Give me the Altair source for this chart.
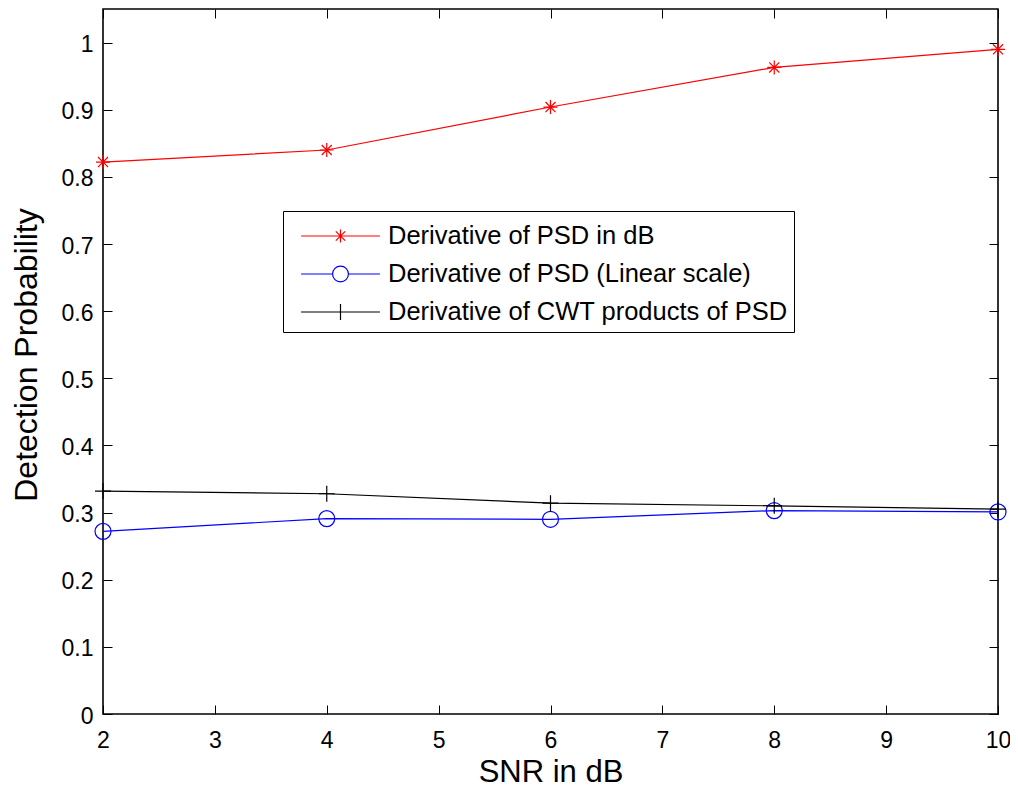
import altair as alt
import pandas as pd

# ---- data ----
snr = [2, 4, 6, 8, 10]
psd_db = [0.822, 0.840, 0.904, 0.963, 0.990]
psd_lin = [0.272, 0.291, 0.290, 0.303, 0.301]
cwt_psd = [0.332, 0.328, 0.314, 0.310, 0.305]

names = [
    "Derivative of PSD in dB",
    "Derivative of PSD (Linear scale)",
    "Derivative of CWT products of PSD",
]
colors = ["#ff0000", "#0000ff", "#000000"]
x_ticks = [2, 3, 4, 5, 6, 7, 8, 9, 10]
y_ticks = [0, 0.1, 0.2, 0.3, 0.4, 0.5, 0.6, 0.7, 0.8, 0.9, 1.0]

rows = []
for name, vals in zip(names, [psd_db, psd_lin, cwt_psd]):
    for s, v in zip(snr, vals):
        rows.append({"snr": s, "p": v, "series": name})
df = pd.DataFrame(rows)

FONT = "Liberation Sans"

# marker glyphs (unit space)
STAR = "M-1,0L1,0M0,-1L0,1M-0.72,-0.72L0.72,0.72M-0.72,0.72L0.72,-0.72"
PLUS = "M-1,0L1,0M0,-1L0,1"
markers = [(STAR, 196), ("circle", 256), (PLUS, 256)]

# legend glyphs: line + marker
LEG_STAR = ("M-2.19,0L2.19,0M0,-0.36L0,0.36M-0.26,-0.26L0.26,0.26"
            "M-0.26,0.26L0.26,-0.26")
LEG_CIRC = ("M-2.19,0L-0.44,0M0.44,0L2.19,0"
            "M0.44,0A0.44,0.44,0,1,1,-0.44,0A0.44,0.44,0,1,1,0.44,0")
LEG_PLUS = "M-2.19,0L2.19,0M0,-0.45L0,0.45"
leg_shapes = [LEG_STAR, LEG_CIRC, LEG_PLUS]

xscale = alt.Scale(domain=[2, 10], nice=False, zero=False)
yscale = alt.Scale(domain=[0, 1.05], nice=False, zero=False)

bottom_axis = alt.Axis(
    orient="bottom", values=x_ticks, offset=-9, tickSize=9, domain=False,
    grid=False, labelPadding=15, labelFontSize=23, labelFont=FONT,
    labelFlush=False, labelColor="black", tickColor="black", tickWidth=1,
    title="SNR in dB", titleFont=FONT, titleFontSize=31,
    titleFontWeight="normal", titleColor="black",
    titleBaseline="alphabetic", titleY=76, titleX=447.5,
)
left_axis = alt.Axis(
    orient="left", values=y_ticks, format=".1~f", offset=-9, tickSize=9,
    domain=False, grid=False, labelPadding=10, labelFontSize=23,
    labelFont=FONT, labelColor="black", labelOffset=2, labelFlush=False,
    tickColor="black", tickWidth=1,
    title="Detection Probability", titleFont=FONT, titleFontSize=32,
    titleFontWeight="normal", titleColor="black", titleAngle=-90,
    titleBaseline="alphabetic", titleX=-76, titleY=345.5,
)
top_axis = alt.Axis(
    orient="top", values=x_ticks, offset=-9, tickSize=9, domain=False,
    grid=False, labels=False, title=None, tickColor="black", tickWidth=1,
)
right_axis = alt.Axis(
    orient="right", values=y_ticks, offset=-9, tickSize=9, domain=False,
    grid=False, labels=False, title=None, tickColor="black", tickWidth=1,
)

base = alt.Chart(df)
layers = []
for i, (name, col, (shp, sz)) in enumerate(zip(names, colors, markers)):
    sub = base.transform_filter(alt.datum.series == name)
    line = sub.mark_line(strokeWidth=1.2, color=col).encode(
        x=alt.X("snr:Q", scale=xscale, axis=bottom_axis if i == 0 else None),
        y=alt.Y("p:Q", scale=yscale, axis=left_axis if i == 0 else None),
    )
    pts = sub.mark_point(filled=False, strokeWidth=1.2, color=col,
                         shape=shp, size=sz, opacity=1).encode(
        x=alt.X("snr:Q", scale=xscale, axis=None),
        y=alt.Y("p:Q", scale=yscale, axis=None),
    )
    layers += [line, pts]

legend_spec = alt.Legend(
    title=None, orient="none", legendX=180, legendY=202,
    padding=6, strokeColor="black", fillColor="white", cornerRadius=0,
    symbolSize=1296, symbolStrokeWidth=1.2, symbolOffset=32.5,
    labelOffset=28.5, labelFont=FONT, labelFontSize=25.5, labelColor="black",
    labelLimit=800, rowPadding=5, symbolFillColor="transparent",
)

legend_layer = base.transform_filter("false").mark_point(
    filled=False, strokeWidth=1.2, opacity=1
).encode(
    x=alt.X("snr:Q", scale=xscale, axis=top_axis),
    y=alt.Y("p:Q", scale=yscale, axis=right_axis),
    color=alt.Color("series:N", scale=alt.Scale(domain=names, range=colors),
                    legend=legend_spec),
    shape=alt.Shape("series:N", scale=alt.Scale(domain=names, range=leg_shapes),
                    legend=legend_spec),
)
layers.append(legend_layer)

chart = alt.layer(*layers).resolve_axis(
    x="independent", y="independent"
).properties(
    width=895, height=705,
    padding={"left": 95, "top": 1, "right": 12, "bottom": 74},
    autosize=alt.AutoSizeParams(type="none"),
    background="white",
).configure_view(
    stroke="black", strokeWidth=1.6
)

chart.save("out.html", embed_options={"renderer": "svg", "actions": False})
